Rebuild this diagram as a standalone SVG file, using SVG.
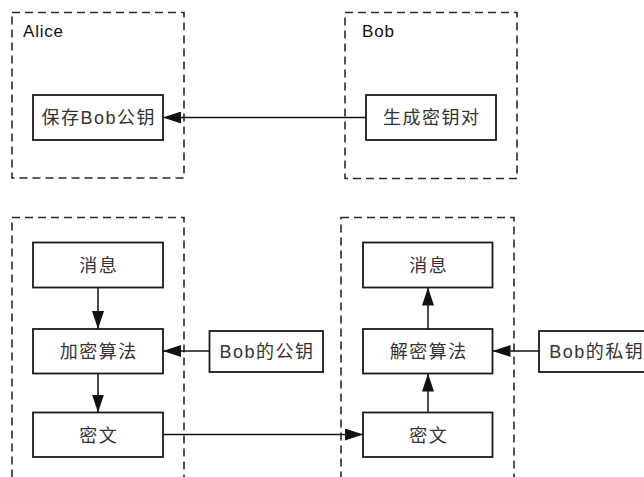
<svg xmlns="http://www.w3.org/2000/svg" width="644" height="477" viewBox="0 0 644 477">
<defs>
<style>
.grp{fill:none;stroke:#2a2a2a;stroke-width:1.6;stroke-dasharray:8 5}
.box{fill:#fff;stroke:#1a1a1a;stroke-width:1.8}
.t{font-family:"Liberation Sans","Noto Sans CJK SC",sans-serif;font-size:18px;fill:#333;text-anchor:middle;letter-spacing:1.5px}
.lbl{font-family:"Liberation Sans","Noto Sans CJK SC",sans-serif;font-size:17px;fill:#111;letter-spacing:0.8px}
.c{fill:none;stroke:#111;stroke-width:1.5;marker-end:url(#ah)}
</style>
<marker id="ah" markerUnits="userSpaceOnUse" markerWidth="20" markerHeight="12" refX="18" refY="6" orient="auto">
<path d="M0,0 L18,6 L0,12 z" fill="#111"/>
</marker>
</defs>
<g id="alice">
<rect class="grp" x="12" y="12.5" width="172" height="165.5"/>
<text class="lbl" x="23" y="37">Alice</text>
</g>
<g id="bob">
<rect class="grp" x="345" y="12.5" width="172" height="166"/>
<text class="lbl" x="362" y="37">Bob</text>
</g>
<g id="alice2">
<rect class="grp" x="12" y="217.5" width="172" height="270"/>
</g>
<g id="bob2">
<rect class="grp" x="341" y="217.5" width="173" height="270"/>
</g>
<g id="n-save">
<rect class="box" x="33" y="95" width="130" height="45"/>
<text class="t" x="98.7" y="124">保存Bob公钥</text>
</g>
<g id="n-gen">
<rect class="box" x="366" y="95" width="130" height="45"/>
<text class="t" x="431.7" y="124">生成密钥对</text>
</g>
<g id="n-msg1">
<rect class="box" x="33" y="242.5" width="130" height="45"/>
<text class="t" x="98.7" y="271.5">消息</text>
</g>
<g id="n-enc">
<rect class="box" x="33" y="329" width="130" height="44.5"/>
<text class="t" x="98.7" y="358">加密算法</text>
</g>
<g id="n-ct1">
<rect class="box" x="33" y="412.5" width="130" height="44.5"/>
<text class="t" x="98.7" y="441.5">密文</text>
</g>
<g id="n-pub">
<rect class="box" x="209.5" y="331" width="113.5" height="41"/>
<text class="t" x="267" y="358">Bob的公钥</text>
</g>
<g id="n-msg2">
<rect class="box" x="363" y="242.5" width="129.5" height="45"/>
<text class="t" x="428.7" y="271.5">消息</text>
</g>
<g id="n-dec">
<rect class="box" x="363" y="329" width="129.5" height="44.5"/>
<text class="t" x="428.7" y="358">解密算法</text>
</g>
<g id="n-ct2">
<rect class="box" x="363" y="412.5" width="129.5" height="44.5"/>
<text class="t" x="428.7" y="441.5">密文</text>
</g>
<g id="n-priv">
<rect class="box" x="539" y="331" width="114" height="41"/>
<text class="t" x="596.7" y="358">Bob的私钥</text>
</g>
<g id="connectors">
<line class="c" x1="366" y1="117.5" x2="163" y2="117.5"/>
<line class="c" x1="98" y1="287.5" x2="98" y2="329"/>
<line class="c" x1="98" y1="373.5" x2="98" y2="412.5"/>
<line class="c" x1="209.5" y1="351" x2="163" y2="351"/>
<line class="c" x1="163" y1="434.5" x2="363" y2="434.5"/>
<line class="c" x1="428" y1="412.5" x2="428" y2="373.5"/>
<line class="c" x1="428" y1="329" x2="428" y2="287.5"/>
<line class="c" x1="539" y1="351" x2="492.5" y2="351"/>
</g>
</svg>
